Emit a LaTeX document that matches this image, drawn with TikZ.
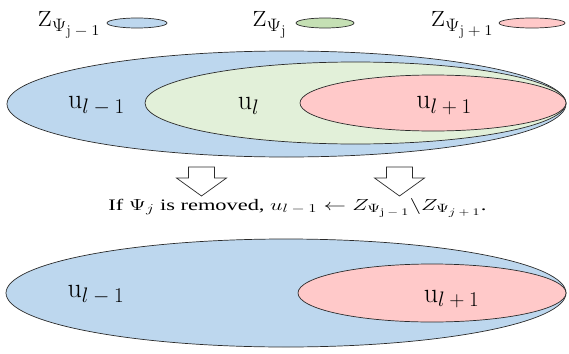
\RequirePackage{fix-cm}
\documentclass[tikz,border=0pt]{standalone}
\usepackage{fontspec}
\newfontfamily\timesfont{Liberation Serif}
\DeclareMathSizes{28}{28}{21}{16}
\DeclareMathSizes{22}{22}{18}{15}
\DeclareMathSizes{16}{16}{12}{10}
\newcommand{\smin}{\mskip4mu{-}\mskip4mu}
\newcommand{\splus}{\mskip4mu{+}\mskip4mu}
\definecolor{setblue}{HTML}{BDD7EE}
\definecolor{setgreen}{HTML}{E2F0D9}
\definecolor{keygreen}{HTML}{C5E0B4}
\definecolor{setred}{HTML}{FFC9C9}
\definecolor{rim}{HTML}{2B2B2B}
\tikzset{
  setrim/.style={draw=rim,line width=0.7pt},
  setlabel/.style={font=\fontsize{28}{30}\selectfont,inner sep=0pt},
  keylabel/.style={font=\fontsize{22}{24}\selectfont,inner sep=0pt,anchor=base east}
}
\begin{document}
\begin{tikzpicture}[x=1pt,y=-1pt]
\useasboundingbox (0,0) rectangle (569,353);
% a hollow block arrow pointing down, centred at x=#1
\newcommand{\blockdown}[1]{%
  \draw[setrim,fill=white] ({#1-13},167) -- ({#1+13},167) -- ({#1+13},178) -- ({#1+25},178)
    -- (#1,196) -- ({#1-25},178) -- ({#1-13},178) -- cycle;
}
% legend: name of the set, then a small swatch
\foreach \nm/\tx/\ex/\rx/\col/\sub in {kb/101/137/30/setblue/{\mathrm{j}\smin1},
    kg/287/325/29/keygreen/{\mathrm{j}},kr/494/532/33/setred/{\mathrm{j}\splus1}}{
  \node[keylabel] (\nm) at (\tx,27) {\scalebox{1.12}[1]{$\mathrm{Z}_{\Psi_{\sub}}$}};
  \draw[setrim,fill=\col] (\ex,23) ellipse [x radius=\rx, y radius=5];
}
% upper picture: three nested sets
\draw[setrim,fill=setblue] (286.5,104) ellipse [x radius=279.5, y radius=53];
\draw[setrim,fill=setgreen] (355.5,103) ellipse [x radius=210.5, y radius=41];
\draw[setrim,fill=setred] (433,103) ellipse [x radius=133, y radius=28];
\node[setlabel] (up) at (96.5,106) {$\mathrm{u}_{l\smin1}$};
\node[setlabel] (uc) at (248.5,106) {$\mathrm{u}_{l}$};
\node[setlabel] (un) at (444,105.5) {$\mathrm{u}_{l\splus1}$};
% removal step
\blockdown{201.5}
\blockdown{399.5}
\node[font=\timesfont\fontsize{16}{18}\selectfont,inner sep=0pt,anchor=base] (rule) at (297.5,210)
  {\scalebox{1.4}[1]{If $\Psi_j$ is removed, $u_{l\smin1}\leftarrow Z_{\Psi_{\mathrm{j}\smin1}}\backslash Z_{\Psi_{j\splus1}}$.}};
% lower picture: the middle set is gone
\draw[setrim,fill=setblue] (286,293) ellipse [x radius=280, y radius=54];
\draw[setrim,fill=setred] (432,293) ellipse [x radius=134, y radius=29];
\node[setlabel] (lp) at (96,294.5) {$\mathrm{u}_{l\smin1}$};
\node[setlabel] (ln) at (451.5,299) {$\mathrm{u}_{l\splus1}$};
\end{tikzpicture}
\end{document}
